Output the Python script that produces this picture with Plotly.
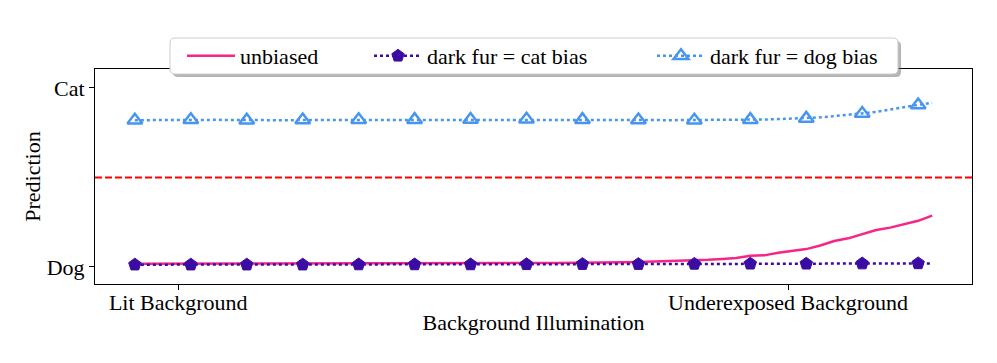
import plotly.graph_objects as go

# ---------------------------------------------------------------
# data
# ---------------------------------------------------------------
steps = list(range(58))

unbiased = [
    0.018, 0.018, 0.018, 0.018, 0.018, 0.018, 0.018, 0.018, 0.018, 0.018,
    0.018, 0.018, 0.018, 0.018, 0.018, 0.019, 0.019, 0.019, 0.019, 0.019,
    0.019, 0.019, 0.020, 0.020, 0.020, 0.020, 0.021, 0.021, 0.022, 0.022,
    0.023, 0.023, 0.024, 0.025, 0.026, 0.027, 0.028, 0.030, 0.032, 0.034,
    0.037, 0.040, 0.045, 0.050, 0.063, 0.065, 0.080, 0.090, 0.100, 0.120,
    0.145, 0.160, 0.182, 0.207, 0.220, 0.240, 0.258, 0.287,
]

cat_bias = [
    0.013, 0.013, 0.013, 0.013, 0.013, 0.013, 0.013, 0.013, 0.013, 0.013,
    0.013, 0.013, 0.013, 0.013, 0.013, 0.014, 0.014, 0.014, 0.014, 0.014,
    0.014, 0.014, 0.014, 0.014, 0.014, 0.015, 0.015, 0.015, 0.015, 0.015,
    0.015, 0.015, 0.016, 0.016, 0.016, 0.016, 0.016, 0.016, 0.017, 0.017,
    0.017, 0.017, 0.017, 0.017, 0.018, 0.018, 0.018, 0.018, 0.018, 0.018,
    0.019, 0.019, 0.019, 0.019, 0.019, 0.020, 0.020, 0.020,
]

dog_bias = [
    0.820, 0.821, 0.821, 0.821, 0.822, 0.822, 0.822, 0.821, 0.820, 0.820,
    0.820, 0.820, 0.821, 0.821, 0.821, 0.821, 0.822, 0.822, 0.822, 0.822,
    0.823, 0.823, 0.823, 0.823, 0.824, 0.824, 0.824, 0.824, 0.825, 0.825,
    0.824, 0.824, 0.823, 0.823, 0.822, 0.822, 0.821, 0.821, 0.820, 0.820,
    0.820, 0.820, 0.821, 0.822, 0.823, 0.824, 0.826, 0.828, 0.830, 0.836,
    0.843, 0.850, 0.857, 0.866, 0.880, 0.893, 0.905, 0.918,
]

mark_every = 4
threshold = 0.5

x_tick_vals = [3.1, 46.7]
x_tick_text = ["Lit Background", "Underexposed Background"]
y_tick_vals = [0, 1]
y_tick_text = ["Dog", "Cat"]

# ---------------------------------------------------------------
# style
# ---------------------------------------------------------------
PINK = "#F72585"
PURPLE = "#3A0CA3"
BLUE = "#4895EF"
FONT = "Liberation Serif, DejaVu Serif, serif"

# page body has an 8px margin, so the figure is drawn 8px smaller
OFF = 8
W, H = 997 - OFF, 363 - OFF
SYM_W = 48
MARK = 13

marker_sizes = [MARK if i % mark_every == 0 else 0 for i in steps]

series = [
    ("unbiased", unbiased, PINK, "solid", None, "legend"),
    ("dark fur = cat bias", cat_bias, PURPLE, "dot", "pentagon", "legend2"),
    ("dark fur = dog bias", dog_bias, BLUE, "dot", "triangle-up-open", "legend3"),
]

fig = go.Figure()

for name, vals, color, dash, symbol, leg in series:
    mode = "lines" if symbol is None else "lines+markers"
    mk = None
    if symbol:
        mk = dict(symbol=symbol, size=marker_sizes, color=color, opacity=1,
                  line=dict(width=2.5 if symbol.endswith("open") else 1, color=color))
    fig.add_trace(go.Scatter(
        x=steps, y=vals, mode=mode, name=name, showlegend=False,
        line=dict(color=color, width=2.5, dash=dash), marker=mk,
    ))
    # legend-only entry so the legend marker is drawn at full size
    if mk:
        mk = dict(mk, size=MARK)
    fig.add_trace(go.Scatter(
        x=[None], y=[None], mode=mode, name=name, legend=leg,
        line=dict(color=color, width=2.5, dash=dash), marker=mk,
    ))

fig.add_hline(y=threshold, line=dict(color="red", width=2, dash="7px,3px"))


# legend frame + shadow (legend box spans x 170..898, y 38..74 on screen)
def px_x(p):
    return (p - 95) / 877


def px_y(p):
    return 1 - (p - 69) / 215


def rounded_box(x0, y0, x1, y1, r=5):
    # screen px -> paper coords, rounded corners drawn with Q curves
    X = px_x
    Y = px_y
    return (
        f"M {X(x0 + r)},{Y(y0)} L {X(x1 - r)},{Y(y0)} "
        f"Q {X(x1)},{Y(y0)} {X(x1)},{Y(y0 + r)} "
        f"L {X(x1)},{Y(y1 - r)} Q {X(x1)},{Y(y1)} {X(x1 - r)},{Y(y1)} "
        f"L {X(x0 + r)},{Y(y1)} Q {X(x0)},{Y(y1)} {X(x0)},{Y(y1 - r)} "
        f"L {X(x0)},{Y(y0 + r)} Q {X(x0)},{Y(y0)} {X(x0 + r)},{Y(y0)} Z"
    )


fig.add_shape(type="path", xref="paper", yref="paper", layer="above",
              path=rounded_box(173, 41, 901, 77),
              fillcolor="rgba(120,120,120,0.55)", line=dict(width=0))
fig.add_shape(type="path", xref="paper", yref="paper", layer="above",
              path=rounded_box(170, 38, 898, 74),
              fillcolor="white", line=dict(color="#cccccc", width=1))

axis_common = dict(
    showline=True, linecolor="black", linewidth=1, mirror=True,
    ticks="outside", ticklen=5, tickcolor="black", tickwidth=1,
    showgrid=False, zeroline=False, automargin=False,
    tickfont=dict(family=FONT, size=22, color="black"),
)

legend_common = dict(
    orientation="h", xref="container", yref="container",
    xanchor="left", yanchor="middle", y=1 - (56 - OFF) / H,
    bgcolor="rgba(0,0,0,0)", borderwidth=0, itemwidth=SYM_W,
    font=dict(family=FONT, size=22, color="black"),
)

fig.update_layout(
    width=W, height=H,
    showlegend=True,
    paper_bgcolor="white", plot_bgcolor="white",
    margin=dict(l=95 - OFF, r=25, t=69 - OFF, b=79, autoexpand=False),
    font=dict(family=FONT, size=22, color="black"),
    xaxis=dict(
        range=[-2.85, 59.85],
        tickvals=x_tick_vals, ticktext=x_tick_text,
        ticklabelstandoff=-6,
        title=dict(text="Background Illumination", standoff=0,
                   font=dict(family=FONT, size=22)),
        **axis_common,
    ),
    yaxis=dict(
        range=[-0.095, 1.106],
        tickvals=y_tick_vals, ticktext=y_tick_text,
        ticklabelstandoff=0,
        title=dict(text="Prediction", standoff=0,
                   font=dict(family=FONT, size=22)),
        **axis_common,
    ),
    legend=dict(x=(200 - (SYM_W - 30) - OFF) / W, **legend_common),
    legend2=dict(x=(387 - (SYM_W - 30) - OFF) / W, **legend_common),
    legend3=dict(x=(670 - (SYM_W - 30) - OFF) / W, **legend_common),
)

fig.write_html("out.html")
